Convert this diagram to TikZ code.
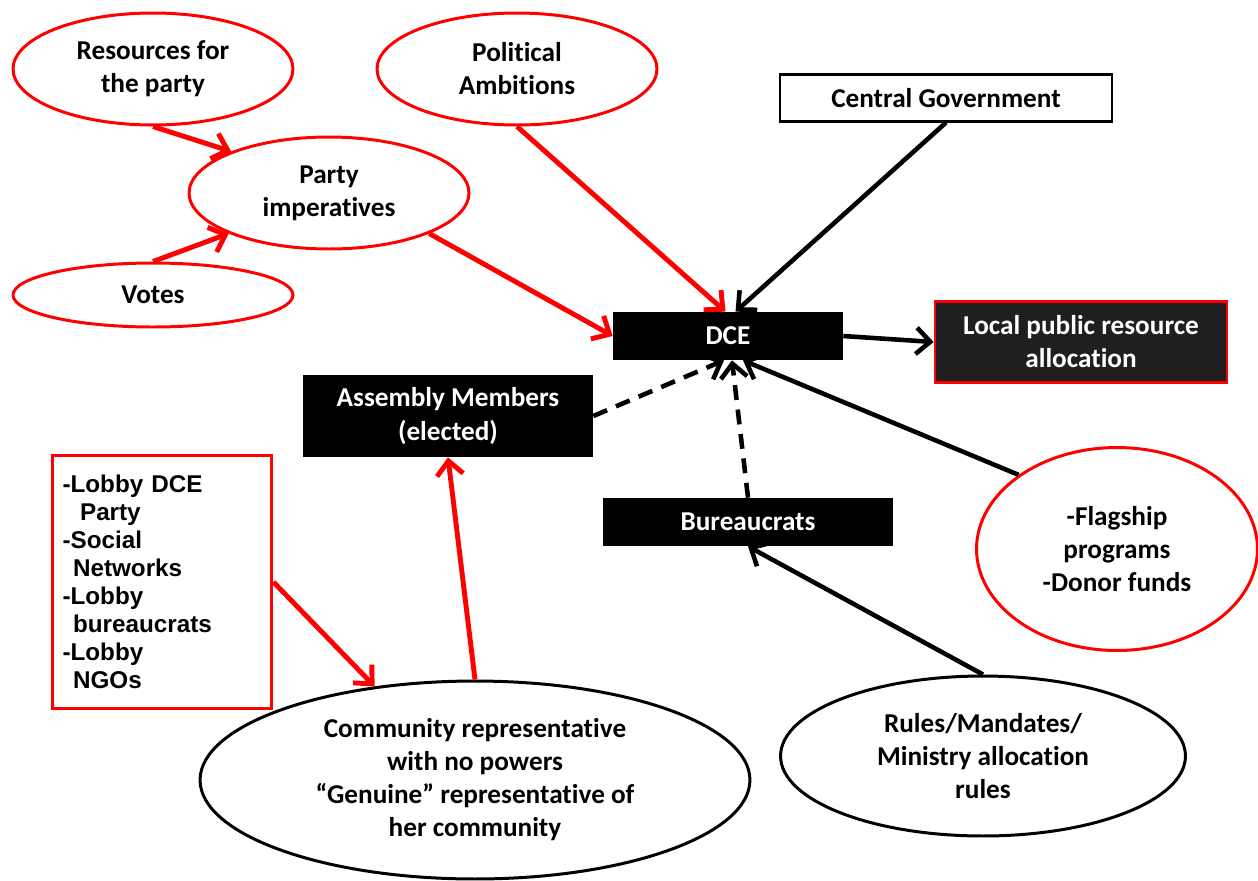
\documentclass[tikz,border=0pt]{standalone}
\usepackage{fontspec}
\setmainfont{Carlito}[Ligatures=NoCommon]
\newfontfamily\lobbyfont{Liberation Sans}
\usetikzlibrary{shapes.geometric,arrows.meta}

\begin{document}
\begin{tikzpicture}[x=0.02cm,y=-0.02cm,line cap=butt,
  font=\fontsize{15.5}{18.8}\selectfont\bfseries,
  redoval/.style={ellipse,draw=red,line width=1.7pt,fill=white,align=center,inner sep=0pt},
  blackoval/.style={ellipse,draw=black,line width=1.7pt,fill=white,align=center,inner sep=0pt},
  darkbox/.style={rectangle,fill=black,text=white,align=center,inner sep=0pt},
  redarrow/.style={draw=red,line width=2.8pt,-{Straight Barb[length=8pt,width=15pt]}},
  blackarrow/.style={draw=black,line width=2.6pt,-{Straight Barb[length=8pt,width=15pt]}},
  dasharrow/.style={blackarrow,dash pattern=on 8.5pt off 5.5pt}]
  \useasboundingbox (0,0) rectangle (1258,880);

  \node[redoval,minimum width=5.6cm,minimum height=2.24cm] (res) at (153,69) {Resources for\\the party};
  \node[redoval,minimum width=5.6cm,minimum height=2.24cm] (pol) at (517,69) {Political\\Ambitions};
  \node[redoval,minimum width=5.6cm,minimum height=2.24cm] (party) at (329,193) {Party\\imperatives};
  \node[redoval,minimum width=5.6cm,minimum height=1.28cm] (votes) at (153,295) {Votes};
  \node[draw,line width=1.2pt,fill=white,minimum width=6.64cm,minimum height=0.94cm,inner sep=0pt] (cg) at (946,98) {Central Government};
  \node[darkbox,minimum width=4.6cm,minimum height=0.96cm] (dce) at (728,336) {DCE};
  \node[darkbox,fill=black!88,draw=red,line width=1.6pt,minimum width=5.84cm,minimum height=1.62cm] (local) at (1081,342) {Local public resource\\allocation};
  \node[darkbox,minimum width=5.8cm,minimum height=1.64cm] (asm) at (448,416) {Assembly Members\\(elected)};
  \node[darkbox,minimum width=5.82cm,minimum height=0.96cm] (bur) at (748,522) {Bureaucrats};
  \node[draw=red,line width=2.2pt,fill=white,minimum height=5.06cm,text width=3.98cm,inner xsep=0.2cm,align=left,
    font=\lobbyfont\fontsize{13.8}{15.9}\selectfont\bfseries] (lobby) at (162,582)
    {-Lobby DCE\\\hspace*{10pt}Party\\-Social\\\hspace*{6pt}Networks\\-Lobby\\\hspace*{6pt}bureaucrats\\-Lobby\\\hspace*{6pt}NGOs};
  \node[redoval,minimum width=5.62cm,minimum height=4.06cm] (flag) at (1117,549) {-Flagship\\programs\\-Donor funds};
  \node[blackoval,minimum width=11cm,minimum height=3.96cm] (comm) at (475,780) {Community representative\\with no powers\\``Genuine'' representative of\\her community};
  \node[blackoval,minimum width=8.1cm,minimum height=3.2cm] (rules) at (983,756) {Rules/Mandates/\\Ministry allocation\\rules};

  \draw[redarrow] (res.south) -- (party.157);
  \draw[redarrow] (votes.north) -- (party.202);
  \draw[redarrow] (party.-22) -- (dce.west);
  \draw[redarrow] (pol.south) -- ([xshift=-0.05cm]dce.north);
  \draw[blackarrow] (cg.south) -- ([xshift=0.15cm]dce.north);
  \draw[blackarrow] (dce.east) -- (local.west);
  \draw[dasharrow] (asm.east) -- ([xshift=-0.08cm]dce.south);
  \draw[dasharrow] (bur.north) -- ([xshift=0.08cm]dce.south);
  \draw[blackarrow] (flag.143) -- ([xshift=0.3cm]dce.south);
  \draw[blackarrow] (rules.north) -- (bur.south);
  \draw[redarrow] (lobby.east) -- (comm.137);
  \draw[redarrow] (comm.north) -- (asm.south);
\end{tikzpicture}
\end{document}
